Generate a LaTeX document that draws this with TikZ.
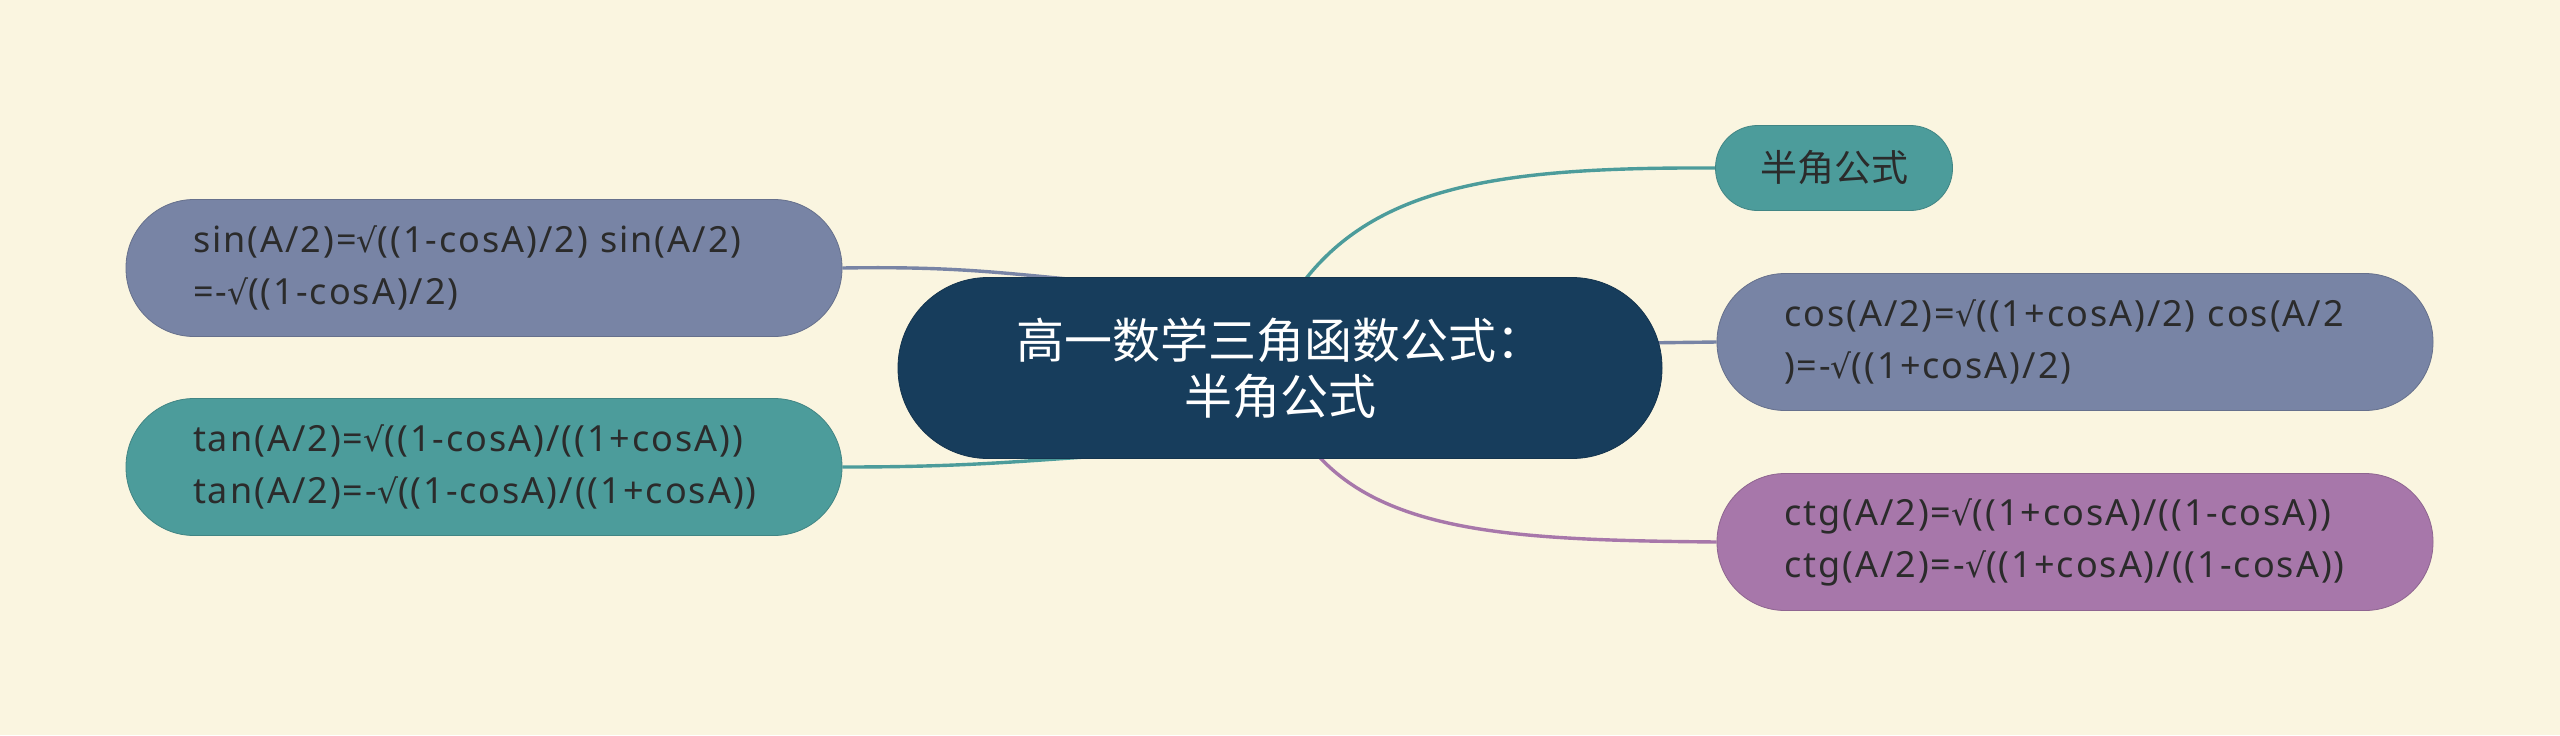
\documentclass[tikz,border=0pt]{standalone}
\usepackage{fontspec}
\setmainfont{Noto Sans}[LetterSpace=5.5]
\newfontfamily\cjkf{Noto Sans CJK SC}
\newfontfamily\symf{DejaVu Sans}[LetterSpace=5.5]
\newcommand{\sqr}{{\symf\fontsize{16.5pt}{26pt}\selectfont √}}
\usetikzlibrary{backgrounds}
\definecolor{bgc}{HTML}{FAF5E0}
\definecolor{navy}{HTML}{173D5C}
\definecolor{teal}{HTML}{4C9C9B}
\definecolor{slate}{HTML}{7884A5}
\definecolor{purp}{HTML}{A777AA}
\definecolor{txt}{HTML}{2B2B2B}
\tikzset{
  pill/.style={fill=#1, draw=#1!85!black, line width=0.4pt, inner ysep=0pt, text=txt,
    font={\fontsize{18pt}{26pt}\selectfont}},
  leafbox/.style={pill=#1, text width=291pt, inner xsep=33.5pt, align=left,
    minimum height=68.5pt, rounded corners=34pt},
  link/.style={draw=#1, line width=1.7pt}
}
\begin{document}
\begin{tikzpicture}[x=0.5pt,y=-0.5pt]
\useasboundingbox (0,0) rectangle (2560,735);

\node[pill=navy, text=white, minimum width=382pt, minimum height=90.5pt, rounded corners=45pt,
  align=center, font={\cjkf\fontsize{24pt}{28pt}\selectfont}] (c) at (1280,368) {高一数学三角函数公式：\\半角公式};

\node[pill=teal, minimum width=118.5pt, minimum height=42.5pt, rounded corners=21pt, inner xsep=0pt,
  font={\cjkf\fontsize{18.5pt}{26pt}\selectfont}] (half) at (1834,168) {半角公式};

\node[leafbox=slate] (cos) at (2075,342) {cos(A/2)=\sqr((1+cosA)/2) cos(A/2\\)=-\sqr((1+cosA)/2)};
\node[leafbox=purp] (ctg) at (2075,542) {ctg(A/2)=\sqr((1+cosA)/((1-cosA))\\ctg(A/2)=-\sqr((1+cosA)/((1-cosA))};
\node[leafbox=slate] (sin) at (484,268) {sin(A/2)=\sqr((1-cosA)/2) sin(A/2)\\=-\sqr((1-cosA)/2)};
\node[leafbox=teal] (tan) at (484,467) {tan(A/2)=\sqr((1-cosA)/((1+cosA))\\tan(A/2)=-\sqr((1-cosA)/((1+cosA))};

\coordinate (ch) at (1296,292);
\coordinate (cc) at (1640,343);
\coordinate (cg) at (1310,446);
\coordinate (cs) at (1100,282);
\coordinate (ct) at (1100,456);

\begin{pgfonlayer}{background}
\fill[bgc] (0,0) rectangle (2560,735);
\draw[link=teal] (ch) .. controls (1370,185) and (1500,167) .. (half.west);
\draw[link=slate] (cc) -- (cos.west);
\draw[link=purp] (cg) .. controls (1380,535) and (1520,540) .. (ctg.west);
\draw[link=slate] (sin.east) .. controls (960,266) and (1010,274) .. (cs);
\draw[link=teal] (tan.east) .. controls (960,467) and (1010,462) .. (ct);
\end{pgfonlayer}
\end{tikzpicture}
\end{document}
